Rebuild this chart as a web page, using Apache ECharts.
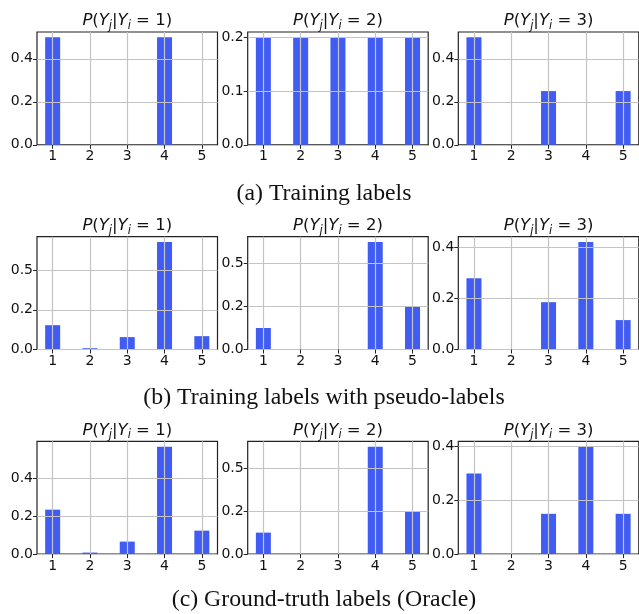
<!DOCTYPE html>
<html>
<head>
<meta charset="utf-8">
<script src="https://cdn.jsdelivr.net/npm/echarts@6/dist/echarts.min.js"></script>
<style>html,body{margin:0;padding:0;background:#fff}#c{width:639px;height:614px}</style>
</head>
<body>
<div id="c"></div>
<script>
// ---- data ----
const categories = [1, 2, 3, 4, 5];
const conditionLabels = ['1', '2', '3'];
const captions = ['(a) Training labels', '(b) Training labels with pseudo-labels', '(c) Ground-truth labels (Oracle)'];

const trainY1 = [0.5, 0, 0, 0.5, 0];
const trainY2 = [0.2, 0.2, 0.2, 0.2, 0.2];
const trainY3 = [0.5, 0, 0.25, 0, 0.25];

const pseudoY1 = [0.153, 0.008, 0.078, 0.676, 0.084];
const pseudoY2 = [0.125, 0, 0, 0.625, 0.25];
const pseudoY3 = [0.279, 0, 0.185, 0.42, 0.115];

const oracleY1 = [0.235, 0.008, 0.066, 0.568, 0.124];
const oracleY2 = [0.125, 0, 0, 0.625, 0.25];
const oracleY3 = [0.3, 0, 0.15, 0.4, 0.15];

const ticksA = [[0, 0.2, 0.4], [0, 0.1, 0.2], [0, 0.2, 0.4]];
const labelsA = [['0.0', '0.2', '0.4'], ['0.0', '0.1', '0.2'], ['0.0', '0.2', '0.4']];
const ticksB = [[0, 0.25, 0.5], [0, 0.25, 0.5], [0, 0.2, 0.4]];
const labelsB = [['0.0', '0.2', '0.5'], ['0.0', '0.2', '0.5'], ['0.0', '0.2', '0.4']];
const ticksC = [[0, 0.2, 0.4], [0, 0.25, 0.5], [0, 0.2, 0.4]];
const labelsC = [['0.0', '0.2', '0.4'], ['0.0', '0.2', '0.5'], ['0.0', '0.2', '0.4']];

// ---- layout ----
const rows = [
  { values: [trainY1, trainY2, trainY3], ticks: ticksA, labels: labelsA },
  { values: [pseudoY1, pseudoY2, pseudoY3], ticks: ticksB, labels: labelsB },
  { values: [oracleY1, oracleY2, oracleY3], ticks: ticksC, labels: labelsC }
];
const rowTop = [32, 236.7, 441.3];
const rowH = 112.8;
const colLeft = [37, 247.7, 458.3];
const colW = 180.5;
const captionY = [194, 398, 600];

const barColor = '#405CF2';
const gridColor = '#c4c4c4';
const FONT = 'DejaVu Sans';

const grid = [], xAxis = [], yAxis = [], series = [], graphic = [];
let k = 0;
rows.forEach((row, r) => {
  row.values.forEach((vals, c) => {
    const left = colLeft[c], top = rowTop[r];
    grid.push({ left: left, top: top, width: colW, height: rowH, show: true,
      borderColor: '#222', borderWidth: 1.2, backgroundColor: 'transparent', containLabel: false });
    xAxis.push({ type: 'value', gridIndex: k, min: 0.58, max: 5.42, z: 5,
      axisLine: { show: false },
      axisTick: { show: true, length: 4, lineStyle: { color: '#222', width: 1 }, customValues: categories },
      axisLabel: { customValues: categories, color: '#111', fontFamily: FONT, fontSize: 14, margin: 5,
        formatter: v => String(v) },
      splitLine: { show: true, lineStyle: { color: gridColor, width: 1.2 } } });
    const tks = row.ticks[c], lbs = row.labels[c];
    yAxis.push({ type: 'value', gridIndex: k, min: 0, max: e => e.max * 1.05, z: 5,
      axisLine: { show: false },
      axisTick: { show: true, length: 4, lineStyle: { color: '#222', width: 1 }, customValues: tks },
      axisLabel: { customValues: tks, color: '#111', fontFamily: FONT, fontSize: 14, margin: 4,
        formatter: v => { const i = tks.findIndex(t => Math.abs(t - v) < 1e-9); return i >= 0 ? lbs[i] : ''; } },
      splitLine: { show: true, lineStyle: { color: gridColor, width: 1.2 } } });
    series.push({ type: 'bar', xAxisIndex: k, yAxisIndex: k, barWidth: 15, z: 2,
      itemStyle: { color: barColor }, silent: true,
      data: categories.map((cat, i) => [cat, vals[i]]) });
    graphic.push({ type: 'text', x: left + colW / 2, y: top - 11, z: 10,
      style: {
        text: '{i|P}{n|(}{i|Y}{s|j}{n||}{i|Y}{s|i}{n| = ' + conditionLabels[c] + ')}',
        align: 'center', verticalAlign: 'middle', fill: '#111',
        rich: {
          i: { fontFamily: FONT, fontSize: 16.5, fontStyle: 'italic', lineHeight: 22, verticalAlign: 'middle', fill: '#111' },
          n: { fontFamily: FONT, fontSize: 16.5, lineHeight: 22, verticalAlign: 'middle', fill: '#111' },
          s: { fontFamily: FONT, fontSize: 11.5, fontStyle: 'italic', lineHeight: 11, verticalAlign: 'bottom', fill: '#111' }
        }
      }
    });
    k++;
  });
  graphic.push({ type: 'text', x: 324, y: captionY[r], z: 10,
    style: { text: captions[r], font: '23.8px "Liberation Serif"', fill: '#111', align: 'center', verticalAlign: 'middle' } });
});

const chart = echarts.init(document.getElementById('c'), null, { renderer: 'canvas' });
chart.setOption({ animation: false, backgroundColor: '#fff', grid, xAxis, yAxis, series, graphic });
</script>
</body>
</html>
